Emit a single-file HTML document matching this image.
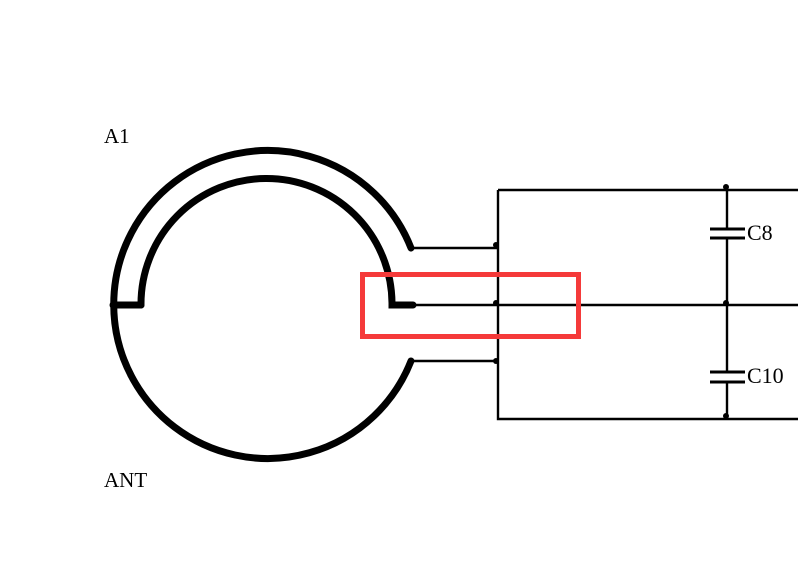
<!DOCTYPE html>
<html><head><style>body{margin:0;background:#fff}svg{display:block}</style></head><body>
<svg width="798" height="571" viewBox="0 0 798 571" xmlns="http://www.w3.org/2000/svg">
<rect width="798" height="571" fill="#fff"/>
<g fill="none" stroke="#000" stroke-width="7" stroke-linecap="round">
<path d="M411,248 A154,154 0 1 0 411,361"/>
<path d="M141,305 A125,125 0 1 1 392,303 L392,305 L413,305"/>
<path d="M113,305 L141,305"/>
</g>
<g fill="none" stroke="#000" stroke-width="2.4">
<path d="M498,190 L798,190 M498,190 L498,419 L798,419"/>
<path d="M411,248 L498,248 M413,305 L798,305 M411,361 L498,361"/>
<path d="M727,187 L727,229 M727,238 L727,372 M727,382 L727,419"/>
<path d="M710,229 L745,229 M710,238 L745,238 M710,372 L745,372 M710,382 L745,382" stroke-width="3"/>
</g>
<g fill="#000">
<circle cx="496" cy="245" r="3"/><circle cx="496" cy="303" r="3"/><circle cx="496" cy="361" r="3"/>
<circle cx="726" cy="187" r="3"/><circle cx="726" cy="303" r="3"/><circle cx="726" cy="416" r="3"/>
</g>
<rect x="362.5" y="274.5" width="216" height="62" fill="none" stroke="#f53a3a" stroke-width="5"/>
<g font-family="Liberation Serif, serif" font-size="21" fill="#000">
<text x="104" y="143">A1</text>
<text x="104" y="487">ANT</text>
<text x="747" y="240" font-size="22">C8</text>
<text x="747" y="383" font-size="22">C10</text>
</g>
</svg>
</body></html>
